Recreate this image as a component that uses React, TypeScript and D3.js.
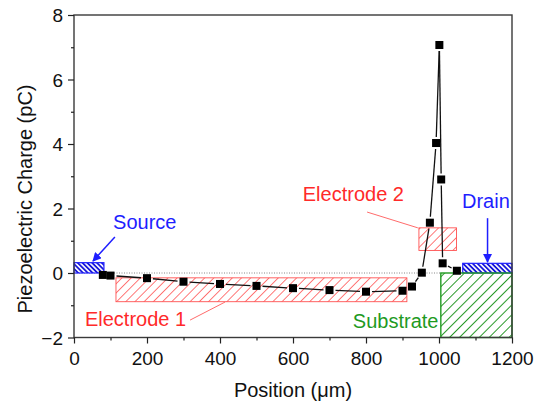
import React, { useEffect, useRef } from 'react';
import * as d3 from 'd3';

// measured points (position in um, charge in pC)
const positions = [79, 100, 200, 300, 400, 500, 600, 700, 800, 900, 926, 953, 975, 992, 1001, 1006, 1010, 1049];
const charges = [-0.06, -0.08, -0.16, -0.27, -0.34, -0.4, -0.47, -0.53, -0.58, -0.55, -0.42, 0.01, 1.56, 4.03, 7.07, 2.9, 0.3, 0.07];

const xTicks = [0, 200, 400, 600, 800, 1000, 1200];
const yTicks = [-2, 0, 2, 4, 6, 8];

// device regions: [x0, x1, y0, y1] in data units
const regionNames = ['Source', 'Drain', 'Electrode 1', 'Electrode 2', 'Substrate'];
const regionX = [[0, 82], [1065, 1200], [115, 912], [945, 1048], [1005, 1200]];
const regionY = [[0, 0.32], [0, 0.3], [-0.89, -0.15], [0.7, 1.4], [-2, 0]];

// label anchors in data units
const labelX = [107, 1063, 30, 904, 764];
const labelY = [1.36, 2.02, -1.64, 2.23, -1.71];

const BLUE = '#1e1eff';
const RED = '#ff2a2a';
const GREEN = '#1f9a1f';

const App = () => {
    const svgRef = useRef(null);

    useEffect(() => {
        draw();
    }, []);

    const draw = () => {
        const width = 541;
        const height = 405;
        const svg = d3.select(svgRef.current);
        svg.selectAll('*').remove();
        svg.attr('width', width).attr('height', height);

        const x = d3.scaleLinear().domain([0, 1200]).range([74, 512]);
        const y = d3.scaleLinear().domain([-2, 8]).range([337.5, 15]);
        const font = 'Liberation Sans, Arial, sans-serif';

        // hatch patterns
        const defs = svg.append('defs');
        const hatch = (id, color, gap, sw, angle, bg) => {
            const p = defs.append('pattern')
                .attr('id', id)
                .attr('patternUnits', 'userSpaceOnUse')
                .attr('width', gap)
                .attr('height', gap)
                .attr('patternTransform', `rotate(${angle})`);
            if (bg) p.append('rect').attr('width', gap).attr('height', gap).attr('fill', bg);
            p.append('line')
                .attr('x1', gap / 2).attr('y1', 0)
                .attr('x2', gap / 2).attr('y2', gap)
                .attr('stroke', color)
                .attr('stroke-width', sw);
        };
        hatch('hBlue', '#1414d8', 3.4, 1.8, -45, '#ffffff');
        hatch('hRed', '#ff6a6a', 6.5, 0.9, 45, null);
        hatch('hGreen', '#2a9a2a', 7, 1, 45, null);

        const arrowHead = (id, color) => {
            defs.append('marker')
                .attr('id', id)
                .attr('viewBox', '0 0 10 10')
                .attr('refX', 9).attr('refY', 5)
                .attr('markerWidth', 9).attr('markerHeight', 9)
                .attr('markerUnits', 'userSpaceOnUse')
                .attr('orient', 'auto')
                .append('path')
                .attr('d', 'M0,0 L10,5 L0,10 Z')
                .attr('fill', color);
        };
        arrowHead('arrBlue', BLUE);

        // zero reference line
        svg.append('line')
            .attr('x1', x(0)).attr('x2', x(1005))
            .attr('y1', y(0)).attr('y2', y(0))
            .attr('stroke', '#888')
            .attr('stroke-width', 1)
            .attr('stroke-dasharray', '1,1.5');

        const fills = ['url(#hBlue)', 'url(#hBlue)', 'url(#hRed)', 'url(#hRed)', 'url(#hGreen)'];
        const strokes = [BLUE, BLUE, '#ff5050', '#ff5050', GREEN];
        const strokeW = [1.2, 1.2, 0.9, 0.9, 1.4];

        svg.append('g')
            .selectAll('rect')
            .data(regionNames)
            .enter()
            .append('rect')
            .attr('x', (d, i) => x(regionX[i][0]))
            .attr('width', (d, i) => x(regionX[i][1]) - x(regionX[i][0]))
            .attr('y', (d, i) => y(regionY[i][1]))
            .attr('height', (d, i) => y(regionY[i][0]) - y(regionY[i][1]))
            .attr('fill', (d, i) => fills[i])
            .attr('stroke', (d, i) => strokes[i])
            .attr('stroke-width', (d, i) => strokeW[i]);

        // leader lines for electrodes
        const leaders = [[[318, -1.46], [414, -0.9]], [[803, 1.89], [942, 1.4]]];
        leaders.forEach(l => {
            svg.append('line')
                .attr('x1', x(l[0][0])).attr('y1', y(l[0][1]))
                .attr('x2', x(l[1][0])).attr('y2', y(l[1][1]))
                .attr('stroke', '#ff5a5a')
                .attr('stroke-width', 0.9);
        });

        // arrows for source / drain
        const arrows = [[[112, 1.12], [52, 0.37]], [[1133, 1.7], [1133, 0.34]]];
        arrows.forEach(a => {
            svg.append('line')
                .attr('x1', x(a[0][0])).attr('y1', y(a[0][1]))
                .attr('x2', x(a[1][0])).attr('y2', y(a[1][1]))
                .attr('stroke', BLUE)
                .attr('stroke-width', 1.5)
                .attr('marker-end', 'url(#arrBlue)');
        });

        // data line with gaps around symbols
        const pts = positions.map((p, i) => [x(p), y(charges[i])]);
        const gap = 6;
        const lineG = svg.append('g');
        for (let i = 0; i < pts.length - 1; i++) {
            const [x1, y1] = pts[i];
            const [x2, y2] = pts[i + 1];
            const len = Math.hypot(x2 - x1, y2 - y1);
            if (len <= gap * 2) continue;
            const ux = (x2 - x1) / len;
            const uy = (y2 - y1) / len;
            lineG.append('line')
                .attr('x1', x1 + ux * gap).attr('y1', y1 + uy * gap)
                .attr('x2', x2 - ux * gap).attr('y2', y2 - uy * gap)
                .attr('stroke', '#111')
                .attr('stroke-width', 1.3);
        }

        const s = 8;
        svg.append('g')
            .selectAll('rect')
            .data(pts)
            .enter()
            .append('rect')
            .attr('x', d => d[0] - s / 2)
            .attr('y', d => d[1] - s / 2)
            .attr('width', s)
            .attr('height', s)
            .attr('fill', '#000');

        // frame
        svg.append('rect')
            .attr('x', x(0)).attr('y', y(8))
            .attr('width', x(1200) - x(0))
            .attr('height', y(-2) - y(8))
            .attr('fill', 'none')
            .attr('stroke', '#3a3a3a')
            .attr('stroke-width', 1.4);

        // axes
        const xAxis = svg.append('g')
            .attr('transform', `translate(0,${y(-2)})`)
            .call(d3.axisBottom(x).tickValues(xTicks).tickSize(6).tickPadding(8).tickFormat(d3.format('d')));
        svg.append('g')
            .attr('transform', `translate(0,${y(-2)})`)
            .call(d3.axisBottom(x).tickValues(d3.range(100, 1200, 200)).tickSize(3).tickFormat(() => ''));
        const yAxis = svg.append('g')
            .attr('transform', `translate(${x(0)},0)`)
            .call(d3.axisLeft(y).tickValues(yTicks).tickSize(6).tickPadding(5).tickFormat(d3.format('d')));
        svg.append('g')
            .attr('transform', `translate(${x(0)},0)`)
            .call(d3.axisLeft(y).tickValues(d3.range(-1, 8, 2)).tickSize(3).tickFormat(() => ''));

        svg.selectAll('.domain').remove();
        svg.selectAll('.tick line').attr('stroke', '#222').attr('stroke-width', 1.2);
        [xAxis, yAxis].forEach(a => a.selectAll('text')
            .style('font-family', font)
            .style('font-size', '19px')
            .attr('fill', '#111'));
        yAxis.selectAll('text').attr('dy', '0.36em');

        // axis titles
        svg.append('text')
            .attr('x', (x(0) + x(1200)) / 2)
            .attr('y', 397)
            .attr('text-anchor', 'middle')
            .style('font-family', font)
            .style('font-size', '20px')
            .attr('fill', '#111')
            .text('Position (μm)');
        svg.append('text')
            .attr('transform', 'translate(32,199) rotate(-90)')
            .attr('text-anchor', 'middle')
            .style('font-family', font)
            .style('font-size', '20px')
            .attr('fill', '#111')
            .text('Piezoelectric Charge (pC)');

        // region labels
        const labelColors = [BLUE, BLUE, RED, RED, GREEN];
        const anchors = ['start', 'start', 'start', 'end', 'start'];
        svg.append('g')
            .selectAll('text')
            .data(regionNames)
            .enter()
            .append('text')
            .attr('x', (d, i) => x(labelX[i]))
            .attr('y', (d, i) => y(labelY[i]))
            .attr('text-anchor', (d, i) => anchors[i])
            .style('font-family', font)
            .style('font-size', '20px')
            .attr('fill', (d, i) => labelColors[i])
            .text(d => d);
    };

    return (
        <svg ref={svgRef} style={{ position: 'absolute', left: 0, top: 0, background: '#fff' }}></svg>
    );
};

export default App;
